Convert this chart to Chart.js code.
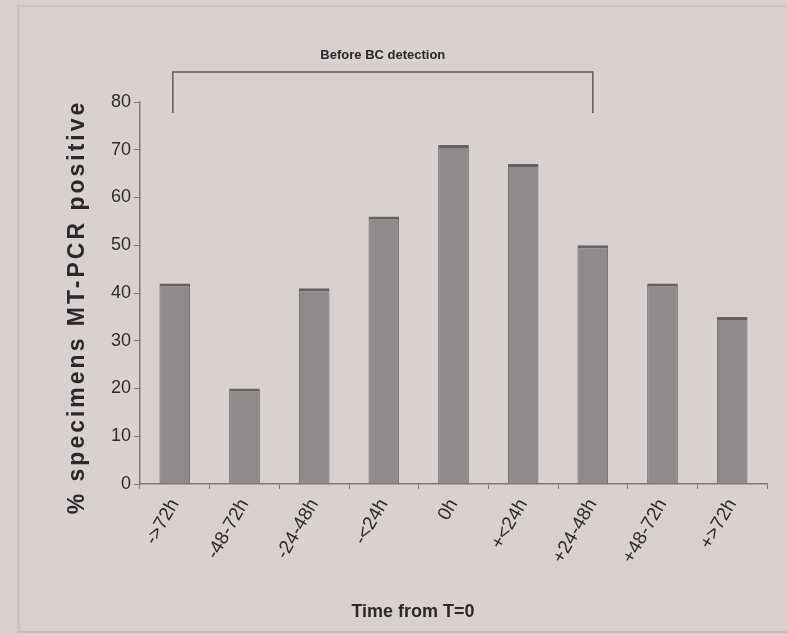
<!DOCTYPE html>
<html>
<head>
<meta charset="utf-8">
<script src="https://cdn.jsdelivr.net/npm/chart.js@4"></script>
<style>
  html, body { margin: 0; padding: 0; background: #d8d1cf; }
  #wrap { width: 787px; height: 635px; position: relative; }
  #frame { position: absolute; left: 17px; top: 5px; right: 0; bottom: 2px;
           border-top: 2px solid #c9c2c0; border-left: 3px solid #ccc5c3; border-bottom: 2px solid #c3bcba; }
  canvas { position: absolute; left: 0; top: 0; }
</style>
</head>
<body>
<div id="wrap"><div id="frame"></div><canvas id="mtpcrChart" width="787" height="635"></canvas></div>
<script>
// categories and values
const timeLabels = ["->72h", "-48-72h", "-24-48h", "-<24h", "0h", "+<24h", "+24-48h", "+48-72h", "+>72h"];
const pctPositive = [42, 20, 41, 56, 71, 67, 50, 42, 35];
const bracketText = "Before BC detection";
const bracketFrom = 0; // first category under the bracket
const bracketTo = 6;   // last category under the bracket
const yTitle = "% specimens MT-PCR positive";
const xTitle = "Time from T=0";

const sans = "'Liberation Sans', Arial, sans-serif";

// bracket above the bars plus both axis titles
const annotatePlugin = {
  id: "annotate",
  afterDraw(chart) {
    const ctx = chart.ctx;
    const x = chart.scales.x;
    const area = chart.chartArea;
    const x1 = x.getPixelForValue(bracketFrom) - 2;
    const x2 = x.getPixelForValue(bracketTo);
    const yTop = area.top - 30;
    const yBot = area.top + 11;
    ctx.save();
    ctx.strokeStyle = "#5e5b5b";
    ctx.lineWidth = 1.5;
    ctx.beginPath();
    ctx.moveTo(x1, yBot);
    ctx.lineTo(x1, yTop);
    ctx.lineTo(x2, yTop);
    ctx.lineTo(x2, yBot);
    ctx.stroke();

    ctx.fillStyle = "#2b2929";
    ctx.textAlign = "center";
    ctx.textBaseline = "middle";
    ctx.font = "bold 13px " + sans;
    ctx.fillText(bracketText, (x1 + x2) / 2, yTop - 17);

    // x title
    ctx.font = "bold 18px " + sans;
    ctx.fillText(xTitle, area.left + 273, area.bottom + 128);

    // y title, rotated
    ctx.translate(area.left - 62, (area.top + area.bottom) / 2 + 14);
    ctx.rotate(-Math.PI / 2);
    ctx.font = "bold 23px " + sans;
    ctx.letterSpacing = "3px";
    ctx.fillText(yTitle, 0, 0);
    ctx.restore();
  }
};

const ctx = document.getElementById("mtpcrChart").getContext("2d");
const mtpcrChart = new Chart(ctx, {
  type: "bar",
  data: {
    labels: timeLabels,
    datasets: [
      {
        label: yTitle,
        data: pctPositive,
        backgroundColor: "#8f8b8a",
        borderColor: "#666262",
        borderWidth: { top: 3, left: 1, right: 1, bottom: 0 },
        borderSkipped: false,
        categoryPercentage: 1.0,
        barPercentage: 0.44,
      },
    ],
  },
  options: {
    responsive: false,
    animation: false,
    layout: {
      padding: { top: 102, right: 20, bottom: 10, left: 68 },
    },
    plugins: {
      legend: { display: false },
      tooltip: { enabled: false },
    },
    scales: {
      x: {
        grid: {
          drawOnChartArea: false,
          color: "#7c7979",
          tickLength: 5,
          offset: true,
        },
        border: { color: "#7c7979", width: 1.5 },
        ticks: {
          color: "#2e2c2c",
          font: { family: sans, size: 19 },
          minRotation: 60,
          maxRotation: 60,
          padding: 6,
        },
        afterFit(scale) {
          scale.height = 141;
        },
      },
      y: {
        min: 0,
        max: 80,
        grid: {
          drawOnChartArea: false,
          color: "#7c7979",
          tickLength: 6,
        },
        border: { color: "#7c7979", width: 1.5 },
        ticks: {
          stepSize: 10,
          color: "#2e2c2c",
          font: { family: sans, size: 18 },
          padding: 3,
        },
        afterFit(scale) {
          scale.width = 72;
        },
      },
    },
  },
  plugins: [annotatePlugin],
});
</script>
</body>
</html>
